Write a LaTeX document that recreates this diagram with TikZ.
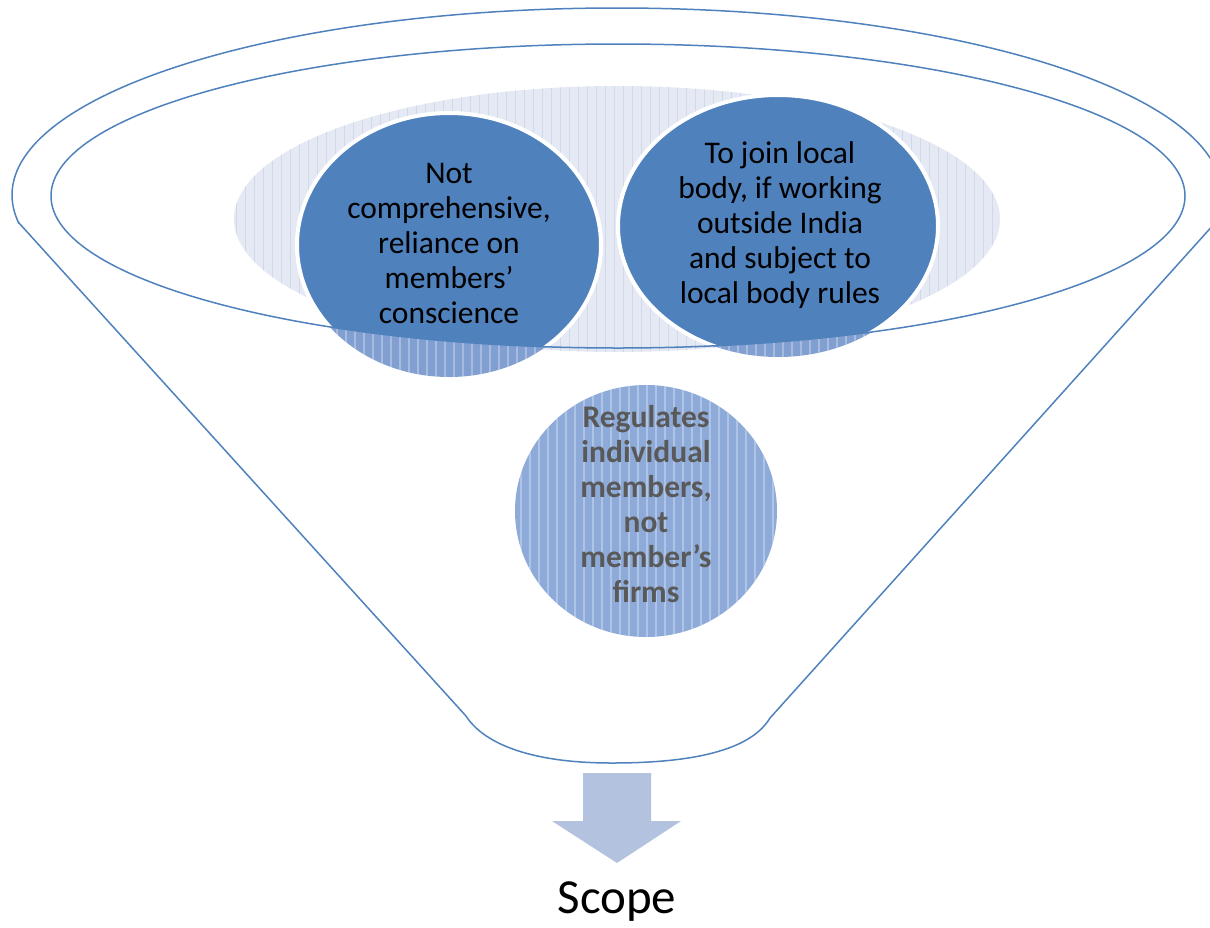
\documentclass[tikz,border=0pt]{standalone}
\usepackage{fontspec}
\setmainfont{Carlito}
\definecolor{fblue}{HTML}{4F81BD}
\definecolor{hatchblue}{HTML}{8DAAD9}
\definecolor{hatchdark}{HTML}{819FD0}
\definecolor{paleblue}{HTML}{E4E9F3}
\definecolor{palestripe}{HTML}{D0D8EA}
\definecolor{arrowblue}{HTML}{B3C3DF}
\definecolor{greytext}{HTML}{595959}
\tikzset{
  funnelline/.style={draw=fblue, line width=1.5pt, line join=round, line cap=round},
  bubbletext/.style={align=center, inner sep=0pt, font=\fontsize{31.5}{35}\selectfont},
  whitestripe/.style={draw=white, opacity=.3, line width=1.2pt},
  palestripeline/.style={draw=palestripe, line width=1pt},
}
\begin{document}
\begin{tikzpicture}[x=1pt,y=-1pt]
\useasboundingbox (0,0) rectangle (1210,927);

% pale textured ellipse behind the bubbles
\begin{scope}
  \clip (617,219) ellipse [x radius=383pt, y radius=133pt];
  \fill[paleblue] (230,80) rectangle (1005,360);
  \foreach \x in {236,245,...,1000} \draw[palestripeline] (\x,80) -- (\x,360);
\end{scope}

% hatched (covered) versions of bubbles 1 and 2
\begin{scope}
  \clip (449,245) ellipse [x radius=152pt, y radius=132pt];
  \fill[hatchdark] (290,100) rectangle (610,390);
  \foreach \x in {292,301,...,610} \draw[whitestripe] (\x,100) -- (\x,390);
\end{scope}
\begin{scope}
  \clip (778,226) ellipse [x radius=160pt, y radius=131pt];
  \fill[hatchdark] (610,90) rectangle (945,365);
  \foreach \x in {612,621,...,945} \draw[whitestripe] (\x,90) -- (\x,365);
\end{scope}

% solid parts of bubbles 1 and 2 inside the funnel mouth
\begin{scope}
  \clip (618,196) ellipse [x radius=567pt, y radius=152pt];
  \draw[fill=fblue, draw=white, line width=4pt] (449,245) ellipse [x radius=152pt, y radius=132pt];
  \draw[fill=fblue, draw=white, line width=4pt] (778,226) ellipse [x radius=160pt, y radius=131pt];
\end{scope}

\node[bubbletext] (b1) at (449,244) {Not\\comprehensive,\\reliance on\\members’\\conscience};
\node[bubbletext] (b2) at (780,225.5) {To join local\\body, if working\\outside India\\and subject to\\local body rules};

% bubble 3, fully inside the funnel body
\begin{scope}
  \clip (646,511) ellipse [x radius=131pt, y radius=126pt];
  \fill[hatchblue] (510,380) rectangle (782,642);
  \foreach \x in {512,521,...,782} \draw[whitestripe] (\x,380) -- (\x,642);
\end{scope}
\node[bubbletext, font=\fontsize{31.5}{35}\selectfont\bfseries, text=greytext] (b3) at (646,504)
  {Regulates\\individual\\members,\\not\\member’s\\firms};

% funnel outline
\draw[funnelline] (618,196) ellipse [x radius=567pt, y radius=152pt];
\begin{scope}
  \clip (0,0) rectangle (1210,223.5);
  \draw[funnelline] (617,195) ellipse [x radius=605pt, y radius=187pt];
\end{scope}
\draw[funnelline] (19,223) -- (466,716)
  .. controls (482,741) and (525,763) .. (612,763)
  .. controls (700,763) and (752,748) .. (770,718) -- (1215,223);

% arrow and label
\fill[arrowblue] (583,773) -- (651,773) -- (651,821) -- (681,821) -- (617,863)
  -- (552,821) -- (583,821) -- cycle;
\node[font=\fontsize{49}{58}\selectfont, inner sep=0pt] (scope) at (617,902) {Scope};
\end{tikzpicture}
\end{document}
